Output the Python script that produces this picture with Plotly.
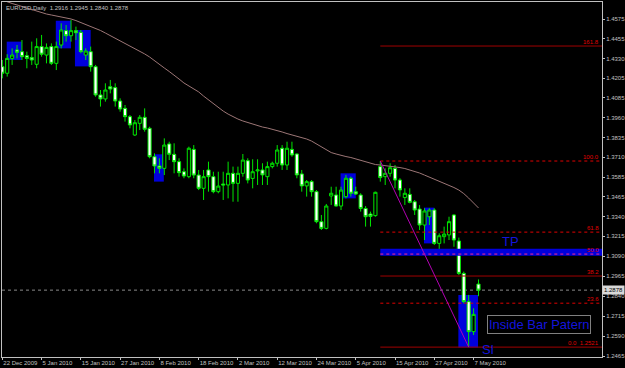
import plotly.graph_objects as go

# ---------------- data ----------------
opens = [1.4278, 1.4237, 1.4330, 1.4383, 1.4372, 1.4347, 1.4335, 1.4293, 1.4404, 1.4351,
         1.4404, 1.4299, 1.4414, 1.4504, 1.4472, 1.4504, 1.4493, 1.4351, 1.4372, 1.4278,
         1.4101, 1.4076, 1.4153, 1.4147, 1.4063, 1.4017, 1.3965, 1.3850, 1.3923, 1.3961,
         1.3892, 1.3714, 1.3656, 1.3641, 1.3794, 1.3729, 1.3683, 1.3620, 1.3589, 1.3760,
         1.3599, 1.3516, 1.3631, 1.3589, 1.3495, 1.3543, 1.3537, 1.3610, 1.3547, 1.3610,
         1.3689, 1.3578, 1.3625, 1.3631, 1.3589, 1.3652, 1.3673, 1.3767, 1.3662, 1.3760,
         1.3731, 1.3606, 1.3531, 1.3558, 1.3495, 1.3307, 1.3265, 1.3468, 1.3474, 1.3405,
         1.3464, 1.3579, 1.3495, 1.3474, 1.3390, 1.3355, 1.3345, 1.3652, 1.3589, 1.3610,
         1.3641, 1.3568, 1.3458, 1.3478, 1.3432, 1.3386, 1.3286, 1.3338, 1.3380, 1.3171,
         1.3213, 1.3224, 1.3349, 1.3186, 1.2983, 1.2806, 1.2618, 1.2916]
highs = [1.4320, 1.4356, 1.4393, 1.4414, 1.4445, 1.4372, 1.4435, 1.4456, 1.4477, 1.4424,
         1.4424, 1.4435, 1.4550, 1.4539, 1.4571, 1.4529, 1.4508, 1.4393, 1.4404, 1.4289,
         1.4132, 1.4174, 1.4195, 1.4174, 1.4080, 1.4038, 1.3975, 1.3944, 1.3975, 1.4017,
         1.3902, 1.3735, 1.3704, 1.3829, 1.3808, 1.3798, 1.3704, 1.3641, 1.3777, 1.3787,
         1.3631, 1.3631, 1.3683, 1.3620, 1.3620, 1.3620, 1.3683, 1.3652, 1.3652, 1.3731,
         1.3704, 1.3698, 1.3698, 1.3673, 1.3683, 1.3683, 1.3787, 1.3787, 1.3808, 1.3808,
         1.3735, 1.3631, 1.3568, 1.3568, 1.3505, 1.3349, 1.3418, 1.3526, 1.3526, 1.3526,
         1.3600, 1.3589, 1.3526, 1.3485, 1.3405, 1.3370, 1.3495, 1.3687, 1.3641, 1.3673,
         1.3662, 1.3579, 1.3516, 1.3516, 1.3443, 1.3411, 1.3391, 1.3391, 1.3391, 1.3234,
         1.3276, 1.3338, 1.3353, 1.3207, 1.2994, 1.2848, 1.2764, 1.2945]
lows = [1.4205, 1.4216, 1.4289, 1.4330, 1.4320, 1.4268, 1.4289, 1.4268, 1.4341, 1.4299,
        1.4289, 1.4257, 1.4393, 1.4435, 1.4435, 1.4445, 1.4362, 1.4320, 1.4247, 1.4090,
        1.4028, 1.4059, 1.4111, 1.4028, 1.3996, 1.3934, 1.3892, 1.3844, 1.3881, 1.3871,
        1.3704, 1.3610, 1.3610, 1.3599, 1.3693, 1.3610, 1.3589, 1.3579, 1.3579, 1.3579,
        1.3505, 1.3443, 1.3495, 1.3485, 1.3485, 1.3443, 1.3453, 1.3432, 1.3432, 1.3589,
        1.3547, 1.3516, 1.3537, 1.3537, 1.3537, 1.3641, 1.3652, 1.3631, 1.3631, 1.3714,
        1.3579, 1.3495, 1.3464, 1.3464, 1.3297, 1.3255, 1.3259, 1.3412, 1.3401, 1.3380,
        1.3453, 1.3464, 1.3474, 1.3370, 1.3276, 1.3276, 1.3338, 1.3558, 1.3537, 1.3589,
        1.3516, 1.3464, 1.3412, 1.3422, 1.3349, 1.3255, 1.3192, 1.3286, 1.3161, 1.3109,
        1.3171, 1.3192, 1.3150, 1.2973, 1.2795, 1.2521, 1.2597, 1.2840]
closes = [1.4237, 1.4330, 1.4351, 1.4368, 1.4341, 1.4330, 1.4320, 1.4404, 1.4356, 1.4399,
          1.4299, 1.4404, 1.4508, 1.4472, 1.4504, 1.4491, 1.4372, 1.4376, 1.4278, 1.4101,
          1.4076, 1.4132, 1.4138, 1.4063, 1.4013, 1.3965, 1.3913, 1.3927, 1.3961, 1.3886,
          1.3714, 1.3656, 1.3641, 1.3787, 1.3729, 1.3683, 1.3614, 1.3593, 1.3767, 1.3599,
          1.3516, 1.3589, 1.3589, 1.3495, 1.3530, 1.3537, 1.3610, 1.3547, 1.3610, 1.3693,
          1.3568, 1.3620, 1.3631, 1.3600, 1.3652, 1.3673, 1.3756, 1.3662, 1.3767, 1.3725,
          1.3600, 1.3531, 1.3558, 1.3495, 1.3307, 1.3265, 1.3405, 1.3485, 1.3405, 1.3505,
          1.3579, 1.3485, 1.3480, 1.3390, 1.3338, 1.3340, 1.3491, 1.3583, 1.3610, 1.3645,
          1.3568, 1.3506, 1.3485, 1.3428, 1.3380, 1.3286, 1.3374, 1.3380, 1.3171, 1.3219,
          1.3229, 1.3307, 1.3192, 1.2983, 1.2806, 1.2618, 1.2726, 1.2878]
ma_values = [1.4696, 1.4683, 1.4674, 1.4665, 1.4655, 1.4646, 1.4636, 1.4627, 1.4618, 1.4608,
             1.4602, 1.4596, 1.4589, 1.4583, 1.4577, 1.4567, 1.4555, 1.4542, 1.4530, 1.4517,
             1.4505, 1.4489, 1.4473, 1.4458, 1.4442, 1.4426, 1.4411, 1.4395, 1.4376, 1.4358,
             1.4339, 1.4314, 1.4292, 1.4270, 1.4248, 1.4226, 1.4201, 1.4176, 1.4157, 1.4138,
             1.4120, 1.4094, 1.4069, 1.4044, 1.4019, 1.4000, 1.3981, 1.3963, 1.3950, 1.3938,
             1.3928, 1.3919, 1.3909, 1.3900, 1.3894, 1.3887, 1.3878, 1.3869, 1.3859, 1.3850,
             1.3844, 1.3834, 1.3825, 1.3812, 1.3794, 1.3772, 1.3756, 1.3740, 1.3731, 1.3722,
             1.3715, 1.3709, 1.3700, 1.3690, 1.3681, 1.3671, 1.3665, 1.3662, 1.3659, 1.3656,
             1.3650, 1.3646, 1.3640, 1.3631, 1.3621, 1.3612, 1.3599, 1.3586, 1.3574, 1.3562,
             1.3549, 1.3537, 1.3521, 1.3505, 1.3483, 1.3455, 1.3424, 1.3393]

date_tick_bars = [0, 8, 16, 24, 32, 40, 48, 56, 64, 72, 80, 88, 96]
date_tick_labels = ["22 Dec 2009", "5 Jan 2010", "15 Jan 2010", "27 Jan 2010", "8 Feb 2010",
                    "18 Feb 2010", "2 Mar 2010", "12 Mar 2010", "24 Mar 2010", "5 Apr 2010",
                    "15 Apr 2010", "27 Apr 2010", "7 May 2010"]
price_ticks = [1.4575, 1.4455, 1.4330, 1.4205, 1.4085, 1.3960, 1.3835, 1.3710, 1.3585,
               1.3465, 1.3340, 1.3215, 1.3090, 1.2965, 1.2840, 1.2715, 1.2590, 1.2465]

# inside-bar highlight boxes: (start bar, end bar, low, high)
box_starts = [0.9, 10.9, 14.8, 30.9, 68.9, 85.9, 92.9]
box_ends = [3.95, 14.0, 18.0, 32.9, 72.0, 88.0, 96.9]
box_lows = [1.4320, 1.4393, 1.4280, 1.3558, 1.3453, 1.3171, 1.2518]
box_highs = [1.4435, 1.4566, 1.4508, 1.3729, 1.3610, 1.3395, 1.2847]

fib_start_bar, fib_end_bar = 77, 95
fib_high, fib_low = 1.3687, 1.2521
fib_ratios = [0.0, 0.236, 0.382, 0.5, 0.618, 1.0, 1.618]
fib_labels = ["0.0  1.2521", "23.6", "38.2", "50.0", "61.8", "100.0", "161.8"]
tp_low, tp_high = 1.3093, 1.3138

# ---------------- figure ----------------
n = len(closes)
bars = list(range(n))
X_MIN, X_MAX = -0.061, 122.16
Y_MIN, Y_MAX = 1.24591, 1.46834

SMALL = "Liberation Sans, Arial, sans-serif"
SANS = "Liberation Sans, Arial, sans-serif"
GREY = "#c0c0c0"
LIME = "#00e600"
BLUE = "#0000dc"

fig = go.Figure()

fig.add_trace(go.Scatter(x=bars, y=ma_values, mode="lines",
                         line=dict(color="#9c7676", width=1),
                         hoverinfo="skip", showlegend=False))

fig.add_trace(go.Candlestick(
    x=bars, open=opens, high=highs, low=lows, close=closes,
    increasing=dict(line=dict(color=LIME, width=1), fillcolor="#000000"),
    decreasing=dict(line=dict(color=LIME, width=1), fillcolor="#ffffff"),
    whiskerwidth=0, showlegend=False, hoverinfo="skip"))

shapes = []
for x0, x1, lo, hi in zip(box_starts, box_ends, box_lows, box_highs):
    shapes.append(dict(type="rect", xref="x", yref="y", x0=x0, x1=x1, y0=lo, y1=hi,
                       fillcolor=BLUE, line=dict(width=0), layer="below"))

# current price line
shapes.append(dict(type="line", xref="x", yref="y", x0=X_MIN, x1=X_MAX,
                   y0=closes[-1], y1=closes[-1],
                   line=dict(color="#8a8a8a", width=1, dash="dot"), layer="below"))

# TP band
shapes.append(dict(type="rect", xref="x", yref="y", x0=fib_start_bar, x1=X_MAX,
                   y0=tp_low, y1=tp_high, fillcolor=BLUE, line=dict(width=0), layer="above"))

annotations = []
rng = fib_high - fib_low
for r, lab in zip(fib_ratios, fib_labels):
    lvl = fib_low + r * rng
    solid = r in (0.0, 0.382, 1.618)
    col = "#a00000" if solid else ("#ff2a8a" if r == 0.5 else "#e00000")
    shapes.append(dict(type="line", xref="x", yref="y", x0=fib_start_bar, x1=X_MAX,
                       y0=lvl, y1=lvl, layer="above",
                       line=dict(color=col, width=1, dash="solid" if solid else "dot")))
    annotations.append(dict(x=0.997, xref="paper", y=lvl, yref="y", text=lab,
                            showarrow=False, xanchor="right", yanchor="bottom",
                            font=dict(family=SMALL, size=6, color="#e00000"),
                            borderpad=0))

# fib trend line
shapes.append(dict(type="line", xref="x", yref="y", x0=fib_start_bar, x1=fib_end_bar,
                   y0=fib_high, y1=fib_low, layer="above",
                   line=dict(color="#b400b4", width=1)))

# header text
annotations.append(dict(x=0.004, xref="paper", y=0.997, yref="paper",
                        text="EURUSD,Daily  %.4f %.4f %.4f %.4f" % (opens[-1], highs[-1], lows[-1], closes[-1]),
                        showarrow=False, xanchor="left", yanchor="top",
                        font=dict(family=SMALL, size=6, color=GREY)))

# current price label on the axis
annotations.append(dict(x=1.0, xref="paper", y=closes[-1], yref="y", text="%.4f" % closes[-1],
                        showarrow=False, xanchor="left", yanchor="middle",
                        bgcolor="#d8d8d8", borderpad=1,
                        font=dict(family=SMALL, size=6, color="#000000")))

TXT_BLUE = "#1414dc"
annotations.append(dict(x=103.5, xref="x", y=1.3180, yref="y", text="TP", showarrow=False,
                        font=dict(family=SANS, size=13, color=TXT_BLUE)))
annotations.append(dict(x=99.0, xref="x", y=1.2503, yref="y", text="Sl", showarrow=False,
                        font=dict(family=SANS, size=13, color=TXT_BLUE)))
annotations.append(dict(x=98.7, xref="x", y=1.2663, yref="y", text="Inside Bar Patern",
                        showarrow=False, xanchor="left", yanchor="middle",
                        bordercolor="#808080", borderwidth=1, borderpad=1,
                        font=dict(family=SANS, size=13, color=TXT_BLUE)))

fig.update_layout(
    width=625, height=368,
    margin=dict(l=2, r=23, t=2, b=11, autoexpand=False),
    paper_bgcolor="#000000", plot_bgcolor="#000000",
    shapes=shapes, annotations=annotations,
    boxgap=0.2, boxgroupgap=0.2,
    showlegend=False,
    xaxis=dict(range=[X_MIN, X_MAX], tickmode="array", tickvals=date_tick_bars,
               ticktext=date_tick_labels, ticks="outside", ticklen=2, tickcolor=GREY,
               ticklabelposition="outside right", tickangle=0, automargin=False,
               tickfont=dict(family=SMALL, size=6, color=GREY),
               showgrid=False, zeroline=False, showline=True, linecolor=GREY,
               linewidth=1, mirror=True, rangeslider=dict(visible=False),
               fixedrange=True),
    yaxis=dict(range=[Y_MIN, Y_MAX], side="right", tickmode="array",
               tickvals=price_ticks, ticktext=["%.4f" % v for v in price_ticks],
               ticks="outside", ticklen=2, tickcolor=GREY, automargin=False,
               tickfont=dict(family=SMALL, size=6, color=GREY),
               showgrid=False, zeroline=False, showline=True, linecolor=GREY,
               linewidth=1, mirror=True, fixedrange=True),
)

fig.write_html("out.html")
